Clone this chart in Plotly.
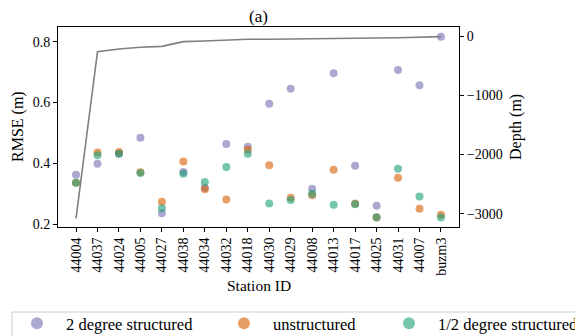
import plotly.graph_objects as go

stations = ["44004", "44037", "44024", "44005", "44027", "44038", "44034", "44032", "44018",
            "44030", "44029", "44008", "44013", "44017", "44025", "44031", "44007", "buzm3"]
rmse_2deg = [0.363, 0.399, 0.432, 0.484, 0.236, 0.372, 0.320, 0.464, 0.455,
             0.596, 0.645, 0.317, 0.696, 0.392, 0.261, 0.707, 0.657, 0.816]
rmse_unstr = [0.336, 0.436, 0.437, 0.371, 0.274, 0.406, 0.315, 0.281, 0.445,
              0.394, 0.287, 0.295, 0.379, 0.268, 0.222, 0.353, 0.251, 0.231]
rmse_half = [0.336, 0.427, 0.432, 0.368, 0.253, 0.366, 0.339, 0.388, 0.432,
             0.268, 0.280, 0.300, 0.264, 0.266, 0.223, 0.382, 0.291, 0.222]
depth = [-3080, -260, -215, -186, -170, -91, -80, -63, -51,
         -50, -48, -45, -40, -38, -30, -25, -15, -5]

FONT = "Liberation Serif, Times New Roman, serif"

# page body has an 8px margin; figure is sized/offset to compensate
W, H = 575, 328
L, T, R, B = 50, 19, 124, 109
PW, PH = W - L - R, H - T - B

def px_x(x):  # figure pixel -> paper x
    return (x - L) / PW

def px_y(y):  # figure pixel -> paper y
    return (H - B - y) / PH

fig = go.Figure()
fig.add_trace(go.Scatter(x=stations, y=depth, mode="lines", yaxis="y2",
                         line=dict(color="#7f7f7f", width=1.6), showlegend=False))
fig.add_trace(go.Scatter(x=stations, y=rmse_2deg, mode="markers", name="2 degree structured",
                         legend="legend",
                         marker=dict(color="#7570b3", size=8, opacity=0.6, line=dict(width=0))))
fig.add_trace(go.Scatter(x=stations, y=rmse_unstr, mode="markers", name="unstructured",
                         legend="legend2",
                         marker=dict(color="#d95f02", size=8, opacity=0.6, line=dict(width=0))))
fig.add_trace(go.Scatter(x=stations, y=rmse_half, mode="markers", name="1/2 degree structured",
                         legend="legend3",
                         marker=dict(color="#1b9e77", size=8, opacity=0.6, line=dict(width=0))))

leg_common = dict(orientation="h", xref="container", yref="container", xanchor="left",
                  y=1 - 298 / H, yanchor="top", borderwidth=0, bgcolor="rgba(0,0,0,0)",
                  font=dict(family=FONT, size=16.5, color="black"), itemwidth=48,
                  itemsizing="constant")

fig.update_layout(
    width=W, height=H,
    margin=dict(l=L, r=R, t=T, b=B, pad=0, autoexpand=False),
    paper_bgcolor="white", plot_bgcolor="white",
    font=dict(family=FONT, size=14, color="black"),
    title=dict(text="(a)", x=(L + PW / 2) / W, xanchor="center", y=1 - 8.5 / H, yanchor="middle",
               font=dict(family=FONT, size=17, color="black")),
    xaxis=dict(type="category", range=[-0.84, 17.84], tickangle=-90,
               showline=True, linecolor="black", linewidth=1, mirror=True,
               ticks="outside", ticklen=4, tickcolor="black", showgrid=False,
               tickfont=dict(family=FONT, size=14)),
    yaxis=dict(range=[0.191, 0.848], tickvals=[0.2, 0.4, 0.6, 0.8], ticktext=["0.2", "0.4", "0.6", "0.8"],
               showline=True, linecolor="black", linewidth=1, mirror=True,
               ticks="outside", ticklen=4, tickcolor="black", showgrid=False, zeroline=False,
               tickfont=dict(family=FONT, size=14)),
    yaxis2=dict(overlaying="y", side="right", range=[-3225, 157], tickvals=[0, -1000, -2000, -3000],
                showline=True, linecolor="black", linewidth=1,
                ticks="outside", ticklen=4, tickcolor="black", showgrid=False, zeroline=False,
                tickfont=dict(family=FONT, size=14)),
    legend=dict(leg_common, x=0.0),
    legend2=dict(leg_common, x=207 / W),
    legend3=dict(leg_common, x=372 / W),
    shapes=[dict(type="rect", xref="paper", yref="paper",
                 x0=px_x(4), x1=px_x(620), y0=px_y(304), y1=px_y(360),
                 line=dict(color="#cccccc", width=1), fillcolor="white", layer="below")],
    annotations=[
        dict(text="Station ID", xref="paper", yref="paper", x=0.5, y=px_y(277),
             xanchor="center", yanchor="middle", showarrow=False,
             font=dict(family=FONT, size=15.5)),
        dict(text="RMSE (m)", xref="paper", yref="paper", x=px_x(10), y=0.5, textangle=-90,
             xanchor="center", yanchor="middle", showarrow=False,
             font=dict(family=FONT, size=16)),
        dict(text="Depth (m)", xref="paper", yref="paper", x=px_x(508), y=0.5, textangle=-90,
             xanchor="center", yanchor="middle", showarrow=False,
             font=dict(family=FONT, size=16)),
    ],
)

fig.write_html("out.html")
